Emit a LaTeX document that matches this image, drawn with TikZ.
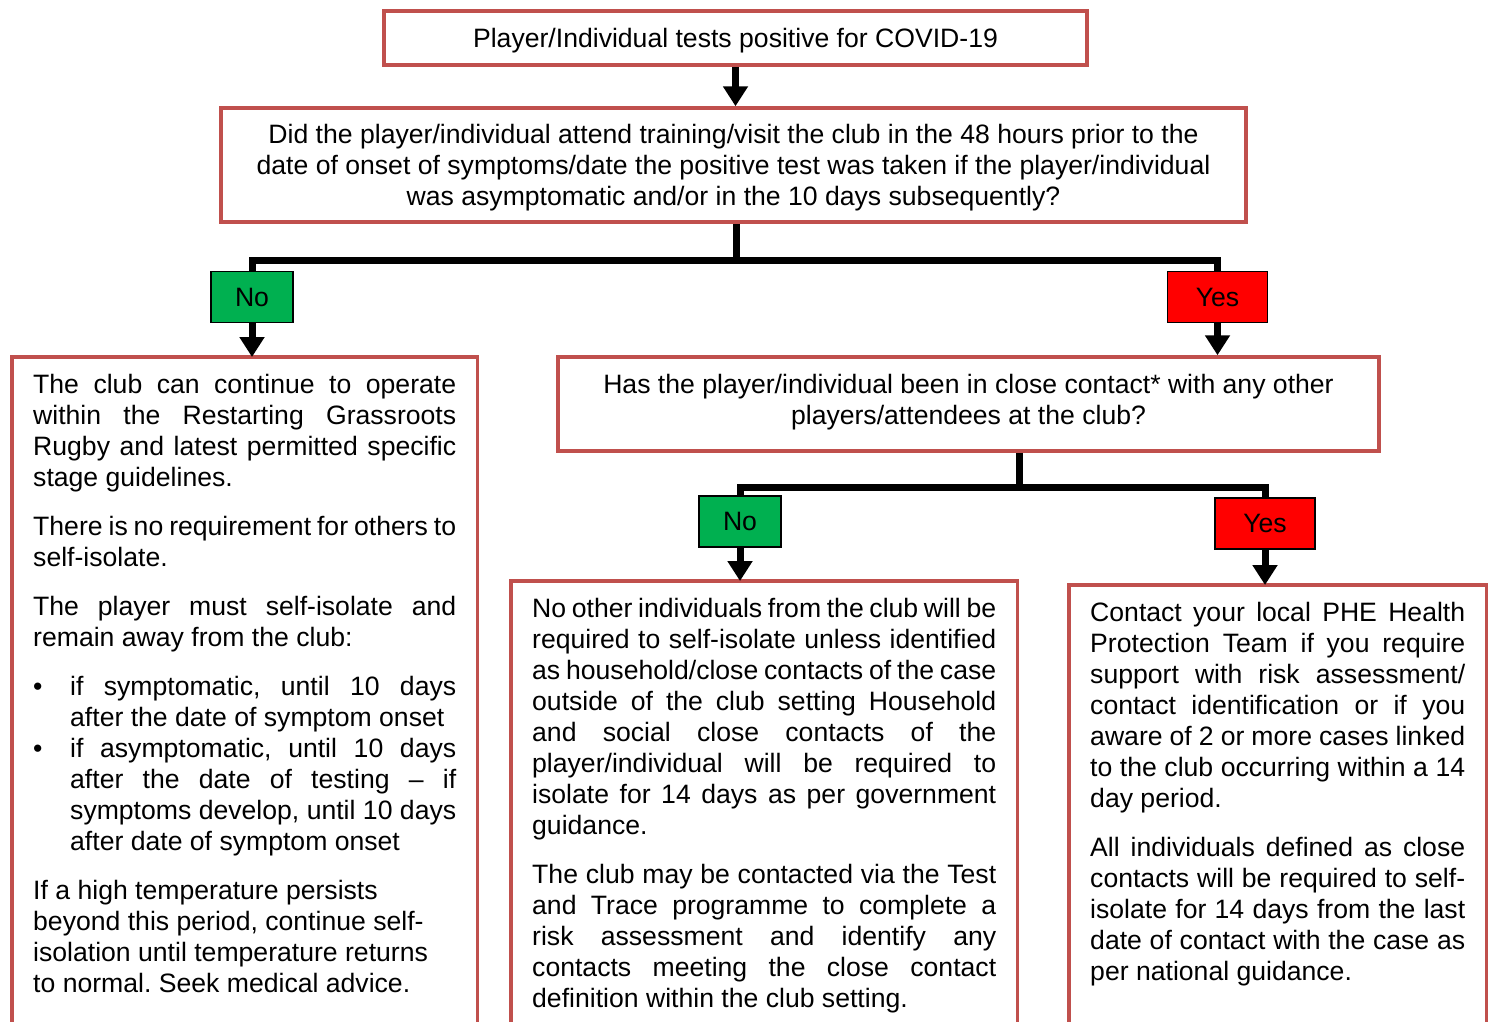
\documentclass[tikz,border=0pt]{standalone}
\usepackage{fontspec}
\setmainfont{Liberation Sans}
\usetikzlibrary{arrows.meta,positioning,calc}

\definecolor{boxred}{HTML}{C0504D}
\definecolor{nogreen}{HTML}{00B050}
\definecolor{yesred}{HTML}{FF0000}

\newcommand{\bodyfont}{\fontsize{26.6pt}{31pt}\selectfont}
\newcommand{\paraset}{\setlength{\parindent}{0pt}\setlength{\parskip}{18pt}%
  \rightskip=0pt\relax\frenchspacing\spaceskip=0.278em plus 0.4em minus 0.12em\relax
  \xspaceskip=\spaceskip\emergencystretch=30pt\adjdemerits=0 \hyphenpenalty=10000 }
\newcommand{\bul}{\noindent\hangindent=37pt\hangafter=1\makebox[37pt][l]{\textbullet}}

\tikzset{
  qbox/.style={draw=boxred, line width=3.5pt, align=center, font=\bodyfont},
  textbox/.style={anchor=north west, inner xsep=21pt, inner ysep=17.5pt, font=\bodyfont},
  frame/.style={draw=boxred, line width=3.5pt},
  nobox/.style={draw=black, line width=1.5pt, fill=nogreen, minimum width=82pt,
    minimum height=51pt, font=\bodyfont},
  yesbox/.style={nobox, fill=yesred, minimum width=100pt},
  link/.style={line width=7pt},
  arr/.style={link, -{Triangle[width=24pt,length=20pt]}}
}

\begin{document}
\begin{tikzpicture}[x=1pt,y=-1pt]
\useasboundingbox (0,0) rectangle (1490,1021);
% questions
\node[qbox, minimum width=703pt, minimum height=54pt, text depth=0pt] (start) at (735.5,38)
  {Player/Individual tests positive for COVID-19};
\node[qbox, minimum width=1025pt, minimum height=114pt, text depth=-2.4pt] (q1) at (733.5,165)
  {Did the player/individual attend training/visit the club in the 48 hours prior to the\\
   date of onset of symptoms/date the positive test was taken if the player/individual\\
   was asymptomatic and/or in the 10 days subsequently?};
\node[qbox, minimum width=821pt, minimum height=94pt, text depth=9.6pt] (q2) at (968.5,404)
  {Has the player/individual been in close contact* with any other\\
   players/attendees at the club?};
% answers
\node[nobox] (no1) at (252,297) {No};
\node[yesbox] (yes1) at (1217.5,297) {Yes};
\node[nobox] (no2) at (740,521.5) {No};
\node[yesbox] (yes2) at (1265,523.5) {Yes};
% outcomes
\node[textbox, text width=423pt] (left) at (12,357) {\paraset
The club can continue to operate\linebreak
within the Restarting Grassroots\linebreak
Rugby and latest permitted specific\linebreak
stage guidelines.\par
There is no requirement for others to\linebreak
self-isolate.\par
The player must self-isolate and\linebreak
remain away from the club:\par
\bul if symptomatic, until 10 days\linebreak
after the date of symptom onset\par
{\parskip=0pt \bul if asymptomatic, until 10 days\linebreak
after the date of testing – if\linebreak
symptoms develop, until 10 days\linebreak
after date of symptom onset\par}
If a high temperature persists\\
beyond this period, continue self-\\
isolation until temperature returns\\
to normal. Seek medical advice.\par};
\node[textbox, text width=464pt] (mid) at (511,581) {\paraset
No other individuals from the club will be\linebreak
required to self-isolate unless identified\linebreak
as household/close contacts of the case\linebreak
outside of the club setting Household\linebreak
and social close contacts of the\linebreak
player/individual will be required to\linebreak
isolate for 14 days as per government\linebreak
guidance.\par
The club may be contacted via the Test\linebreak
and Trace programme to complete a\linebreak
risk assessment and identify any\linebreak
contacts meeting the close contact\linebreak
definition within the club setting.\par};
\node[textbox, text width=375pt] (right) at (1069,585) {\paraset
Contact your local PHE Health\linebreak
Protection Team if you require\linebreak
support with risk assessment/\linebreak
contact identification or if you\linebreak
aware of 2 or more cases linked\linebreak
to the club occurring within a 14\linebreak
day period.\par
All individuals defined as close\linebreak
contacts will be required to self-\linebreak
isolate for 14 days from the last\linebreak
date of contact with the case as\linebreak
per national guidance.\par};
\foreach \b in {left,mid,right}
  \draw[frame] (\b.north west) ++(0,700) -- (\b.north west) -- (\b.north east) -- ++(0,700);
% connectors
\draw[arr] (start.south) -- (start.south |- q1.north);
\coordinate (split1) at (736,260);
\draw[link] (q1.south -| split1) -- (split1) -| (no1.north);
\draw[link] (split1) -| (yes1.north);
\draw[arr] (no1.south) -- (no1.south |- left.north);
\draw[arr] (yes1.south) -- (yes1.south |- q2.north);
\coordinate (split2) at (1019,487);
\draw[link] (q2.south -| split2) -- (split2) -| (no2.north);
\draw[link] (split2) -| (yes2.north);
\draw[arr] (no2.south) -- (no2.south |- mid.north);
\draw[arr] (yes2.south) -- (yes2.south |- right.north);
\end{tikzpicture}
\end{document}
